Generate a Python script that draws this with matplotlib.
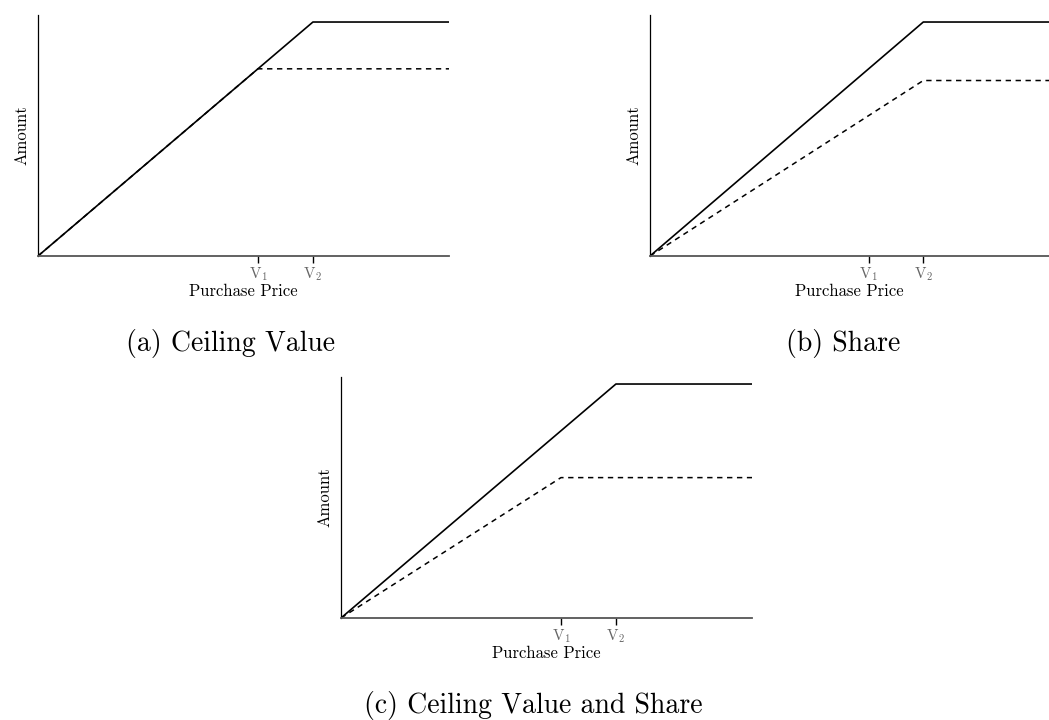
import numpy as np
import matplotlib
matplotlib.use("Agg")
import matplotlib.pyplot as plt

plt.rcParams['font.family'] = 'serif'
plt.rcParams['font.serif'] = ['cmr10', 'DejaVu Serif']
plt.rcParams['mathtext.fontset'] = 'cm'
plt.rcParams['axes.unicode_minus'] = False

# breakpoints on the purchase price axis
v1 = 0.8
v2 = 1.0
price = [0.0, v1, v2, 1.5]
tick_pos = [v1, v2]
tick_labels = [r'V$_1$', r'V$_2$']

# amount curves (solid = full payout, dashed = variant)
solid = [0.0, 0.8, 1.0, 1.0]
dashed_a = [0.0, 0.8, 0.8, 0.8]     # ceiling value
dashed_b = [0.0, 0.6, 0.75, 0.75]   # share
dashed_c = [0.0, 0.6, 0.6, 0.6]     # ceiling value and share

captions = ['(a) Ceiling Value', '(b) Share', '(c) Ceiling Value and Share']

W, H = 1049, 720
fig = plt.figure(figsize=(W / 100, H / 100), dpi=100)


def px_axes(x0, x1, ytop, ybot):
    return fig.add_axes([x0 / W, 1 - ybot / H, (x1 - x0) / W, (ybot - ytop) / H])


def panel(ax, dashed, xmax):
    ax.plot(price, solid, color='black', lw=1.2, solid_capstyle='butt')
    ax.plot(price, dashed, color='black', lw=1.1, ls=(0, (3.5, 3)))
    ax.set_xlim(0, xmax)
    ax.set_ylim(0, 1.03)
    ax.spines['top'].set_visible(False)
    ax.spines['right'].set_visible(False)
    ax.spines['left'].set_color('black')
    ax.spines['left'].set_linewidth(0.9)
    ax.spines['bottom'].set_color('#555555')
    ax.spines['bottom'].set_linewidth(1.3)
    ax.set_yticks([])
    ax.set_xticks(tick_pos)
    ax.set_xticklabels(tick_labels, color='#666666', fontsize=11)
    ax.tick_params(axis='x', length=5, width=1, color='black', pad=2)
    ax.set_xlabel('Purchase Price', fontsize=12, labelpad=0)
    ax.set_ylabel('Amount', fontsize=12, labelpad=6)


ax_a = px_axes(38, 449, 15, 256)
panel(ax_a, dashed_a, 1.495)
ax_b = px_axes(650, 1049, 15, 256)
panel(ax_b, dashed_b, 1.46)
ax_c = px_axes(341, 752, 377, 618)
panel(ax_c, dashed_c, 1.495)

fig.text(230 / W, 1 - 343 / H, captions[0], fontsize=20, ha='center', va='center')
fig.text(843 / W, 1 - 343 / H, captions[1], fontsize=20, ha='center', va='center')
fig.text(533 / W, 1 - 705 / H, captions[2], fontsize=20, ha='center', va='center')

fig.savefig('out.png', dpi=100)
